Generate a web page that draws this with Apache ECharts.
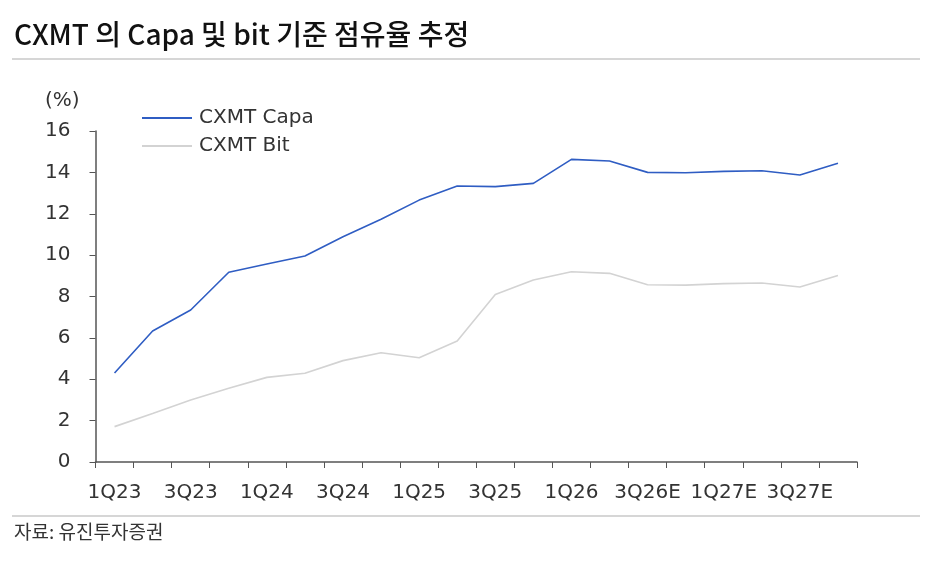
<!DOCTYPE html>
<html>
<head>
<meta charset="utf-8">
<script src="https://cdn.jsdelivr.net/npm/echarts@6/dist/echarts.min.js"></script>
<style>
  html, body { margin: 0; padding: 0; background: #fff; }
  #chart-container { width: 942px; height: 580px; }
</style>
</head>
<body>
<div id="chart-container"></div>
<script>
var quarters = ['1Q23', '2Q23', '3Q23', '4Q23', '1Q24', '2Q24', '3Q24', '4Q24',
  '1Q25', '2Q25', '3Q25', '4Q25', '1Q26', '2Q26', '3Q26E', '4Q26E',
  '1Q27E', '2Q27E', '3Q27E', '4Q27E'];
var capa = [4.3, 6.33, 7.35, 9.17, 9.57, 9.96, 10.89, 11.73, 12.66, 13.34,
  13.31, 13.47, 14.63, 14.55, 14.0, 13.98, 14.05, 14.08, 13.87, 14.44];
var bit = [1.71, 2.35, 3.0, 3.56, 4.09, 4.29, 4.9, 5.28, 5.04, 5.85,
  8.1, 8.8, 9.2, 9.12, 8.57, 8.55, 8.62, 8.65, 8.46, 9.02];
var yTicks = [0, 2, 4, 6, 8, 10, 12, 14, 16];

var krFont = '"Noto Sans CJK KR", "Noto Sans", sans-serif';
var axisFont = '"DejaVu Sans", sans-serif';
var dom = document.getElementById('chart-container');
var myChart = echarts.init(dom, null, { renderer: 'canvas' });

var option = {
  backgroundColor: '#fff',
  animation: false,
  textStyle: { fontFamily: axisFont },
  grid: { left: 95.5, right: 85, top: 131, bottom: 118 },
  legend: {
    orient: 'vertical',
    left: 137,
    top: 103,
    itemWidth: 50,
    itemHeight: 2,
    itemGap: 8,
    icon: 'rect',
    textStyle: { fontSize: 20, color: '#333', fontFamily: axisFont, padding: [0, 0, 0, 2] },
    data: ['CXMT Capa', 'CXMT Bit']
  },
  xAxis: {
    type: 'category',
    data: quarters,
    boundaryGap: true,
    axisLine: { lineStyle: { color: '#555', width: 1.5 } },
    axisTick: { show: true, interval: 0, length: 6, lineStyle: { color: '#555' } },
    axisLabel: { interval: 1, fontSize: 20, color: '#333', margin: 21, fontFamily: axisFont },
    splitLine: { show: false }
  },
  yAxis: {
    type: 'value',
    min: yTicks[0],
    max: yTicks[yTicks.length - 1],
    interval: 2,
    axisLine: { show: true, lineStyle: { color: '#555', width: 1.5 } },
    axisTick: { show: true, length: 6, lineStyle: { color: '#555' } },
    axisLabel: { fontSize: 20, color: '#333', margin: 25, fontFamily: axisFont },
    splitLine: { show: false }
  },
  series: [
    {
      name: 'CXMT Capa',
      type: 'line',
      data: capa,
      symbol: 'none',
      lineStyle: { color: '#2f5dc3', width: 1.6 },
      itemStyle: { color: '#2f5dc3' }
    },
    {
      name: 'CXMT Bit',
      type: 'line',
      data: bit,
      symbol: 'none',
      lineStyle: { color: '#d3d3d3', width: 1.6 },
      itemStyle: { color: '#d3d3d3' }
    }
  ],
  graphic: [
    {
      type: 'text', left: 14, top: 20,
      style: { text: 'CXMT 의 Capa 및 bit 기준 점유율 추정', fontSize: 28, fontWeight: 500, fill: '#111', fontFamily: krFont }
    },
    {
      type: 'line', shape: { x1: 12, y1: 59, x2: 920, y2: 59 },
      style: { stroke: '#c8c8c8', lineWidth: 1.5 }
    },
    {
      type: 'text', left: 45, top: 91,
      style: { text: '(%)', fontSize: 20, fill: '#333', fontFamily: axisFont }
    },
    {
      type: 'line', shape: { x1: 12, y1: 516, x2: 920, y2: 516 },
      style: { stroke: '#c8c8c8', lineWidth: 1.5 }
    },
    {
      type: 'text', left: 14, top: 522,
      style: { text: '자료: 유진투자증권', fontSize: 19, fill: '#333', fontFamily: krFont }
    }
  ]
};

myChart.setOption(option);
window.addEventListener('resize', myChart.resize);
</script>
</body>
</html>
